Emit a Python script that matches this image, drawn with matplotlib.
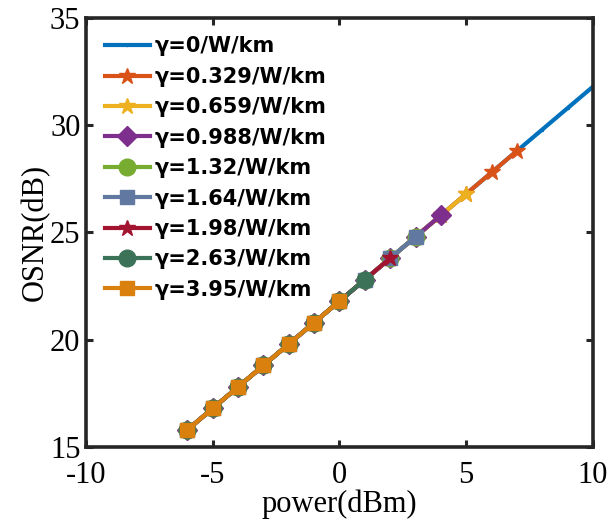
import matplotlib
matplotlib.use("Agg")
import matplotlib.pyplot as plt

plt.rcParams["axes.unicode_minus"] = False

labels = ["γ=0/W/km", "γ=0.329/W/km", "γ=0.659/W/km", "γ=0.988/W/km", "γ=1.32/W/km",
          "γ=1.64/W/km", "γ=1.98/W/km", "γ=2.63/W/km", "γ=3.95/W/km"]

power_all = [-6, -5, -4, -3, -2, -1, 0, 1, 2, 3, 4, 5, 6, 7, 8, 9, 10]
osnr_all = [15.8, 16.8, 17.8, 18.8, 19.8, 20.8, 21.8, 22.8, 23.8, 24.8, 25.8, 26.8, 27.8, 28.8, 29.8, 30.8, 31.8]

# last power point of each series
max_power = [10, 7, 5, 4, 3, 3, 2, 1, 0]

colors = ["#0072BD", "#D95319", "#EDB120", "#7E2F8E", "#77AC30",
          "#6178A0", "#A2142F", "#3C7358", "#D9800F"]
markers = [".", "*", "*", "D", "o", "s", "*", "o", "s"]
msizes = [3, 12, 12, 10, 12, 10.5, 12, 12, 10.5]

serif = ["Liberation Serif", "DejaVu Serif"]

fig = plt.figure(figsize=(6.08, 5.26), dpi=100)
ax = fig.add_axes([0.1414, 0.1502, 0.8339, 0.8156])

for i, lab in enumerate(labels):
    n = power_all.index(max_power[i]) + 1
    ax.plot(power_all[:n], osnr_all[:n], color=colors[i], marker=markers[i],
            markersize=msizes[i], linewidth=3, label=lab,
            markeredgecolor=colors[i])

ax.set_xlim(-10, 10)
ax.set_ylim(15, 35)
ax.set_xticks([-10, -5, 0, 5, 10])
ax.set_yticks([15, 20, 25, 30, 35])
ax.tick_params(direction="in", length=5, width=2.2, top=True, right=True,
               labelsize=22, colors="#262626")
ax.tick_params(axis="x", pad=10)
ax.tick_params(axis="y", pad=4)
for lab in ax.get_xticklabels() + ax.get_yticklabels():
    lab.set_fontfamily(serif)
    lab.set_color("black")
for s in ax.spines.values():
    s.set_linewidth(2.6)
    s.set_color("#262626")

ax.set_xlabel("power(dBm)", fontsize=22, family=serif, labelpad=0)
ax.set_ylabel("OSNR(dB)", fontsize=22, family=serif, labelpad=0)

leg = ax.legend(loc="upper left", frameon=False,
                prop={"family": ["DejaVu Sans"], "weight": "bold", "size": 15},
                handlelength=2.15, handletextpad=0.25, labelspacing=0.5,
                borderaxespad=0.0, borderpad=0.0,
                bbox_to_anchor=(0.037, 0.957))

fig.savefig("out.png", dpi=100)
